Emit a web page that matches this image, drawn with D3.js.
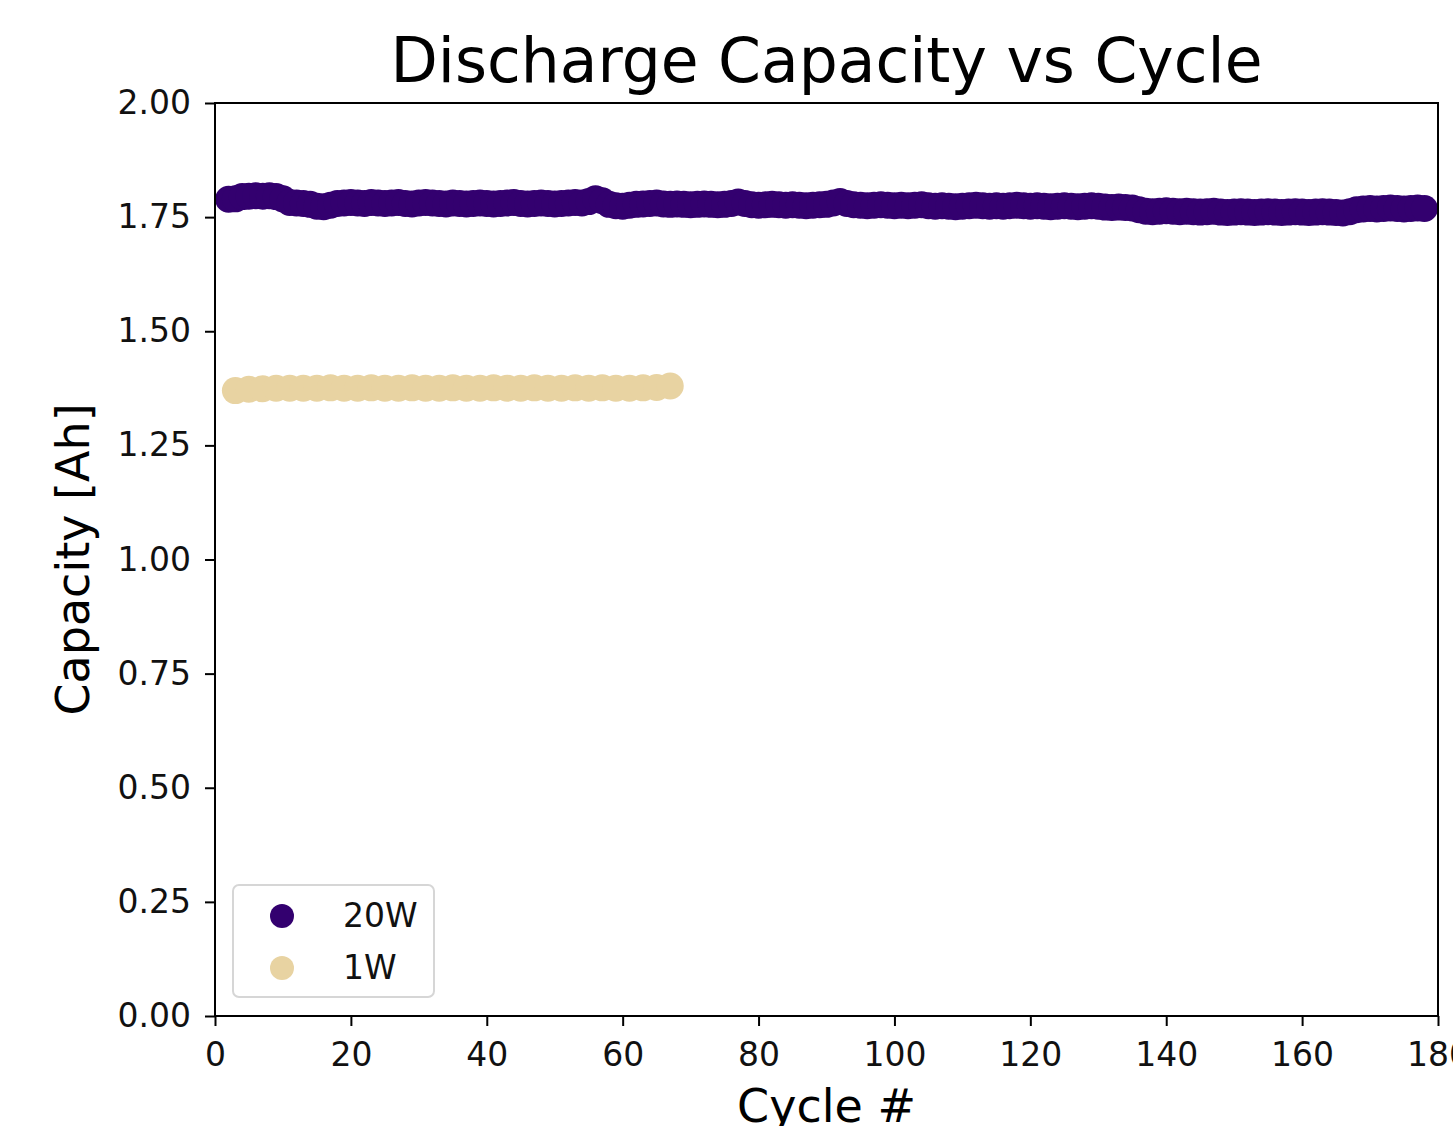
<!DOCTYPE html>
<html>
<head>
<meta charset="utf-8">
<script src="https://cdn.jsdelivr.net/npm/d3@7"></script>
<style>
  body { margin: 0; background: #fff; overflow: hidden; }
  svg { display: block; font-family: "DejaVu Sans", sans-serif; }
</style>
</head>
<body>
<div id="chart"></div>
<script>
// 20W series: one point per cycle, cycles 2..178
const cycles20W = d3.range(2, 179);
const capacity20W = [
  1.789, 1.790, 1.795, 1.796, 1.797, 1.796, 1.797, 1.795, 1.790, 1.782,
  1.781, 1.780, 1.778, 1.774, 1.773, 1.776, 1.780, 1.781, 1.782, 1.781,
  1.780, 1.782, 1.781, 1.780, 1.781, 1.782, 1.780, 1.779, 1.781, 1.782,
  1.781, 1.780, 1.779, 1.781, 1.780, 1.779, 1.780, 1.781, 1.780, 1.779,
  1.780, 1.781, 1.782, 1.780, 1.779, 1.780, 1.781, 1.780, 1.779, 1.780,
  1.781, 1.782, 1.781, 1.784, 1.790, 1.786, 1.778, 1.775, 1.774, 1.776,
  1.778, 1.779, 1.780, 1.781, 1.779, 1.778, 1.779, 1.778, 1.777, 1.778,
  1.779, 1.778, 1.777, 1.778, 1.780, 1.783, 1.780, 1.777, 1.776, 1.777,
  1.778, 1.777, 1.776, 1.777, 1.776, 1.775, 1.776, 1.777, 1.778, 1.781,
  1.784, 1.780, 1.777, 1.776, 1.775, 1.776, 1.777, 1.776, 1.775, 1.776,
  1.775, 1.776, 1.777, 1.775, 1.774, 1.775, 1.774, 1.773, 1.774, 1.775,
  1.776, 1.775, 1.774, 1.775, 1.774, 1.775, 1.776, 1.775, 1.774, 1.775,
  1.774, 1.773, 1.774, 1.775, 1.774, 1.773, 1.774, 1.775, 1.774, 1.772,
  1.771, 1.772, 1.771, 1.770, 1.766, 1.763, 1.762, 1.763, 1.764, 1.763,
  1.762, 1.763, 1.762, 1.761, 1.762, 1.763, 1.761, 1.760, 1.761, 1.762,
  1.761, 1.760, 1.761, 1.762, 1.761, 1.760, 1.761, 1.762, 1.761, 1.760,
  1.761, 1.762, 1.761, 1.760, 1.759, 1.762, 1.766, 1.768, 1.769, 1.768,
  1.769, 1.770, 1.769, 1.768, 1.769, 1.770, 1.769
];

// 1W series: every other cycle, cycles 3..67
const cycles1W = d3.range(3, 68, 2);
const capacity1W = [
  1.370, 1.373, 1.374, 1.375, 1.375, 1.375, 1.375, 1.376, 1.375, 1.375,
  1.376, 1.375, 1.375, 1.376, 1.375, 1.375, 1.376, 1.375, 1.375, 1.376,
  1.375, 1.375, 1.376, 1.375, 1.375, 1.376, 1.375, 1.376, 1.375, 1.375,
  1.376, 1.377, 1.380
];

const xTicks = [0, 20, 40, 60, 80, 100, 120, 140, 160, 180];
const yTicks = [0, 0.25, 0.5, 0.75, 1.0, 1.25, 1.5, 1.75, 2.0];
const seriesNames = ["20W", "1W"];
const seriesColors = ["#33006F", "#E8D3A2"];

const width = 1453, height = 1126;
const margin = {left: 215, right: 15, top: 103, bottom: 110};

const svg = d3.select("#chart").append("svg")
  .attr("width", width)
  .attr("height", height);

const x = d3.scaleLinear().domain([0, 180]).range([margin.left, width - margin.right]);
const y = d3.scaleLinear().domain([0, 2]).range([height - margin.bottom, margin.top]);

// points
const series = [
  {name: seriesNames[0], color: seriesColors[0], pts: cycles20W.map((c, i) => [c, capacity20W[i]])},
  {name: seriesNames[1], color: seriesColors[1], pts: cycles1W.map((c, i) => [c, capacity1W[i]])}
];

series.forEach(s => {
  svg.append("g").selectAll("circle")
    .data(s.pts)
    .enter().append("circle")
    .attr("cx", d => x(d[0]))
    .attr("cy", d => y(d[1]))
    .attr("r", 13.5)
    .attr("fill", s.color);
});

// axes
const xAxis = svg.append("g")
  .attr("transform", `translate(0,${y(0)})`)
  .call(d3.axisBottom(x).tickValues(xTicks).tickSize(10).tickPadding(17).tickFormat(d3.format("d")));
const yAxis = svg.append("g")
  .attr("transform", `translate(${x(0)},0)`)
  .call(d3.axisLeft(y).tickValues(yTicks).tickSize(10).tickPadding(14).tickFormat(d3.format(".2f")));

[xAxis, yAxis].forEach(a => {
  a.select(".domain").remove();
  a.selectAll(".tick line").attr("stroke", "#000").attr("stroke-width", 2);
  a.selectAll(".tick text").attr("font-size", 33).attr("font-family", "DejaVu Sans").attr("fill", "#111");
});

// frame
svg.append("rect")
  .attr("x", x(0)).attr("y", y(2))
  .attr("width", x(180) - x(0)).attr("height", y(0) - y(2))
  .attr("fill", "none").attr("stroke", "#000").attr("stroke-width", 2);

// title and labels
svg.append("text")
  .attr("x", (x(0) + x(180)) / 2).attr("y", 82)
  .attr("text-anchor", "middle").attr("font-size", 61.5).attr("fill", "#000")
  .text("Discharge Capacity vs Cycle");

svg.append("text")
  .attr("x", (x(0) + x(180)) / 2).attr("y", 1122)
  .attr("text-anchor", "middle").attr("font-size", 46).attr("fill", "#000")
  .text("Cycle #");

svg.append("text")
  .attr("transform", `translate(89,${(y(0) + y(2)) / 2}) rotate(-90)`)
  .attr("text-anchor", "middle").attr("font-size", 46).attr("fill", "#000")
  .text("Capacity [Ah]");

// legend
const legend = svg.append("g").attr("transform", "translate(233,885)");
legend.append("rect")
  .attr("width", 201).attr("height", 112).attr("rx", 6)
  .attr("fill", "#fff").attr("fill-opacity", 0.8)
  .attr("stroke", "#d6d6d6").attr("stroke-width", 2);

series.forEach((s, i) => {
  const row = legend.append("g").attr("transform", `translate(0,${31 + i * 52})`);
  row.append("circle").attr("cx", 49).attr("cy", 0).attr("r", 12).attr("fill", s.color);
  row.append("text").attr("x", 110).attr("y", 11)
    .attr("font-size", 33).attr("fill", "#111").text(s.name);
});
</script>
</body>
</html>
